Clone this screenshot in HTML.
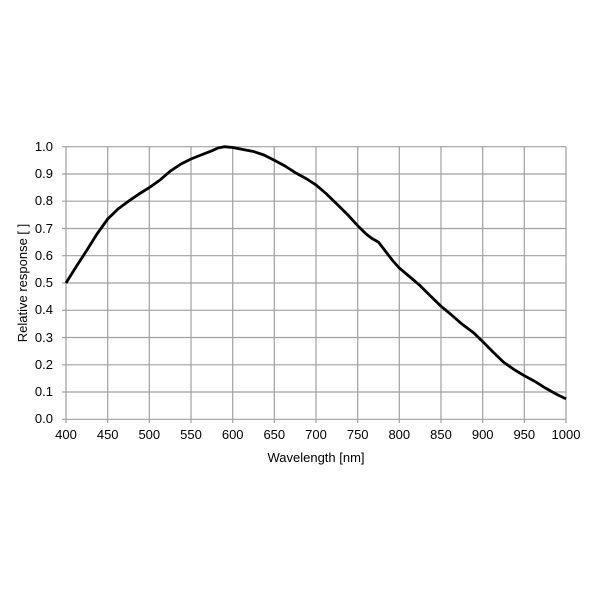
<!DOCTYPE html>
<html><head><style>body{margin:0;background:#fff}</style></head><body>
<svg width="600" height="600" xmlns="http://www.w3.org/2000/svg" font-family="Liberation Sans, Arial, sans-serif">
<rect width="600" height="600" fill="#fff"/>
<g stroke="#a0a0a0" stroke-width="1.2">
<line x1="66" y1="146.7" x2="66" y2="423"/><line x1="107.7" y1="146.7" x2="107.7" y2="423"/><line x1="149.3" y1="146.7" x2="149.3" y2="423"/><line x1="191" y1="146.7" x2="191" y2="423"/><line x1="232.7" y1="146.7" x2="232.7" y2="423"/><line x1="274.3" y1="146.7" x2="274.3" y2="423"/><line x1="316" y1="146.7" x2="316" y2="423"/><line x1="357.7" y1="146.7" x2="357.7" y2="423"/><line x1="399.3" y1="146.7" x2="399.3" y2="423"/><line x1="441" y1="146.7" x2="441" y2="423"/><line x1="482.7" y1="146.7" x2="482.7" y2="423"/><line x1="524.3" y1="146.7" x2="524.3" y2="423"/><line x1="566" y1="146.7" x2="566" y2="423"/>
<line x1="62" y1="146.7" x2="566" y2="146.7"/><line x1="62" y1="174" x2="566" y2="174"/><line x1="62" y1="201.2" x2="566" y2="201.2"/><line x1="62" y1="228.5" x2="566" y2="228.5"/><line x1="62" y1="255.7" x2="566" y2="255.7"/><line x1="62" y1="283" x2="566" y2="283"/><line x1="62" y1="310.3" x2="566" y2="310.3"/><line x1="62" y1="337.5" x2="566" y2="337.5"/><line x1="62" y1="364.8" x2="566" y2="364.8"/><line x1="62" y1="392" x2="566" y2="392"/><line x1="62" y1="419.3" x2="566" y2="419.3"/>
</g>
<polyline fill="none" stroke="#000" stroke-width="2.8" stroke-linejoin="round" points="66,283 76,267 86.8,250.3 97,234 107.7,219 118,209 128.5,201.2 139,194 149.3,187.6 160,180 170.2,171.2 181,164 191,159 201,155 211.8,150.8 218,148 224.3,146.7 232.7,147.5 243,149.5 253.5,151.5 264,155 274.3,160.3 285,166 295.2,172.6 306,178.5 316,184.9 326,193.5 336.8,204 347,214 357.7,225.7 366,233.9 372,238.5 378.5,242.1 386.8,253 393,261 399.3,268 410,277 420.2,285.7 430,295.5 441,306.2 451,314.5 461.8,323.9 474.3,333.4 482.7,341.6 493,352 503.5,362.1 514,369.5 524.3,375.7 535,381.5 545.2,387.9 556,394 566,398.9"/>
<g font-size="13" fill="#000" text-anchor="end">
<text x="53" y="151">1.0</text><text x="53" y="178">0.9</text><text x="53" y="205">0.8</text><text x="53" y="233">0.7</text><text x="53" y="260">0.6</text><text x="53" y="287">0.5</text><text x="53" y="314">0.4</text><text x="53" y="342">0.3</text><text x="53" y="369">0.2</text><text x="53" y="396">0.1</text><text x="53" y="423">0.0</text>
</g>
<g font-size="13" fill="#000" text-anchor="middle">
<text x="66" y="439">400</text><text x="107.7" y="439">450</text><text x="149.3" y="439">500</text><text x="191" y="439">550</text><text x="232.7" y="439">600</text><text x="274.3" y="439">650</text><text x="316" y="439">700</text><text x="357.7" y="439">750</text><text x="399.3" y="439">800</text><text x="441" y="439">850</text><text x="482.7" y="439">900</text><text x="524.3" y="439">950</text><text x="566" y="439">1000</text>
<text x="316" y="462">Wavelength [nm]</text>
<text transform="translate(27,283) rotate(-90)">Relative response [ ]</text>
</g>
</svg>
</body></html>
